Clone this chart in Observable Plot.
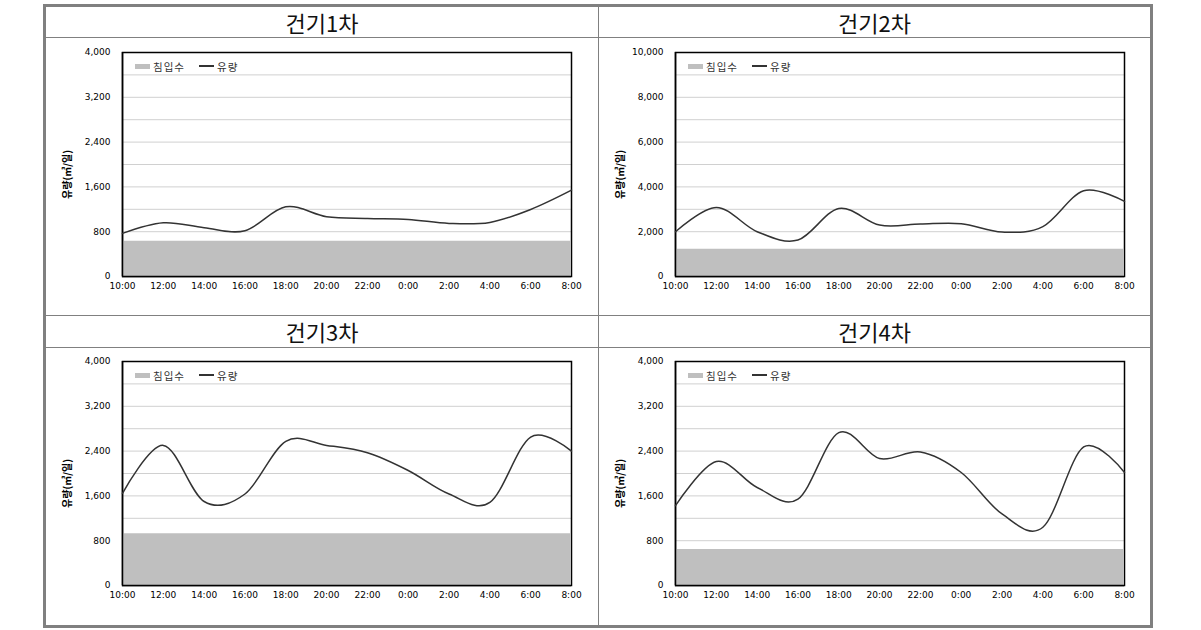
<!DOCTYPE html>
<html><head><meta charset="utf-8">
<script src="https://cdn.jsdelivr.net/npm/d3@7"></script>
<script src="https://cdn.jsdelivr.net/npm/@observablehq/plot@0.6"></script>
<style>
body{margin:0;background:#fff;width:1201px;height:630px;overflow:hidden;position:relative;}
.abs{position:absolute;}
.line{position:absolute;background:#808080;}
.title{position:absolute;height:30px;line-height:30px;text-align:center;font-family:"Noto Sans CJK KR",sans-serif;font-size:22px;color:#111;}
.legend{position:absolute;display:flex;align-items:center;font-family:"Noto Sans CJK KR",sans-serif;font-size:10.5px;color:#333;letter-spacing:1px;height:14px;}
.sw-bar{width:15px;height:5px;background:#bfbfbf;margin-right:3px;}
.sw-line{width:15px;height:1.5px;background:#333;margin-right:3px;}
</style></head>
<body>
<div class="abs" style="left:43px;top:4px;width:1110px;height:624px;border:3px solid #808080;box-sizing:border-box;"></div>
<div class="line" style="left:598px;top:7px;width:1px;height:618px;"></div>
<div class="line" style="left:46px;top:315px;width:1104px;height:1px;"></div>
<div class="line" style="left:46px;top:37px;width:1104px;height:1px;"></div>
<div class="line" style="left:46px;top:347px;width:1104px;height:1px;"></div>
<div id="root"></div>
<script>
// time categories, every 2 hours (10:00 → next day 8:00)
const times = ["10:00","12:00","14:00","16:00","18:00","20:00","22:00","0:00","2:00","4:00","6:00","8:00"];

const titles = ["건기1차","건기2차","건기3차","건기4차"];
const yTitle = "유량(㎥/일)";
const legendLabels = ["침입수","유량"];

// 유량 (flow) series, one per panel
const flow1 = [770, 960, 871, 818, 1244, 1067, 1037, 1019, 948, 966, 1197, 1541];
const flow2 = [2000, 3085, 2000, 1629, 3040, 2297, 2342, 2357, 1985, 2223, 3828, 3352];
const flow3 = [1645, 2502, 1500, 1634, 2574, 2502, 2370, 2053, 1634, 1484, 2651, 2400];
const flow4 = [1425, 2213, 1751, 1544, 2729, 2267, 2385, 2018, 1277, 1040, 2474, 2018];

// 침입수 (infiltration) constant level per panel
const infil = [628, 1220, 926, 645];

// y-axis settings per panel
const yMax = [4000, 10000, 4000, 4000];
const yLabelStep = [800, 2000, 800, 800];
const yGridStep = [400, 1000, 400, 400];

const flows = [flow1, flow2, flow3, flow4];
const cells = [
  {left:46, top:7, w:552},
  {left:599, top:7, w:551},
  {left:46, top:316, w:552},
  {left:599, top:316, w:551}
];

const root = document.getElementById("root");
flows.forEach((flow, k) => {
  const c = cells[k];
  const t = document.createElement("div");
  t.className = "title";
  t.style.left = c.left + "px"; t.style.top = c.top + "px"; t.style.width = c.w + "px";
  t.textContent = titles[k];
  root.appendChild(t);

  const data = flow.map((v, i) => ({i, v}));
  const inf = [{i: 0, v: infil[k]}, {i: times.length - 1, v: infil[k]}];
  const yTicks = d3.range(0, yMax[k] + 1, yLabelStep[k]);
  const gTicks = d3.range(0, yMax[k] + 1, yGridStep[k]);

  const chart = Plot.plot({
    width: c.w, height: 277,
    marginLeft: 76, marginRight: c.w - 525, marginTop: 14, marginBottom: 39,
    style: {fontFamily: "DejaVu Sans", fontSize: "9px", color: "#000", background: "transparent", overflow: "visible"},
    x: {domain: [0, times.length - 1]},
    y: {domain: [0, yMax[k]]},
    marks: [
      Plot.gridY(gTicks, {stroke: "#d0d0d0", strokeOpacity: 1}),
      Plot.frame({stroke: "#000", strokeWidth: 1.5}),
      Plot.areaY(inf, {x: "i", y: "v", fill: "#bfbfbf"}),
      Plot.ruleX([0], {stroke: "#000", strokeWidth: 1.5}),
      Plot.ruleY([0], {stroke: "#000", strokeWidth: 1.5}),
      Plot.lineY(data, {x: "i", y: "v", curve: "cardinal", tension: 0, stroke: "#333", strokeWidth: 1.5}),
      Plot.axisX({ticks: d3.range(times.length), tickFormat: i => times[i], tickSize: 0, tickPadding: 6, label: null}),
      Plot.axisY({ticks: yTicks, tickFormat: d3.format(","), tickSize: 0, tickPadding: 12, label: null}),
      Plot.text([yTitle], {text: d => d, frameAnchor: "left", textAnchor: "middle", dx: -55, dy: 10, rotate: -90, fontWeight: "bold", fontSize: 10, fontFamily: "Noto Sans CJK KR", fill: "#000"})
    ]
  });
  const wrap = document.createElement("div");
  wrap.className = "abs";
  wrap.style.left = c.left + "px";
  wrap.style.top = (c.top + 31) + "px";
  wrap.appendChild(chart);

  const lg = document.createElement("div");
  lg.className = "legend";
  lg.style.left = "89px"; lg.style.top = "21px";
  lg.innerHTML = `<div class="sw-bar"></div><span>${legendLabels[0]}</span><div class="sw-line" style="margin-left:14px"></div><span>${legendLabels[1]}</span>`;
  wrap.appendChild(lg);
  root.appendChild(wrap);
});
</script>
</body></html>
